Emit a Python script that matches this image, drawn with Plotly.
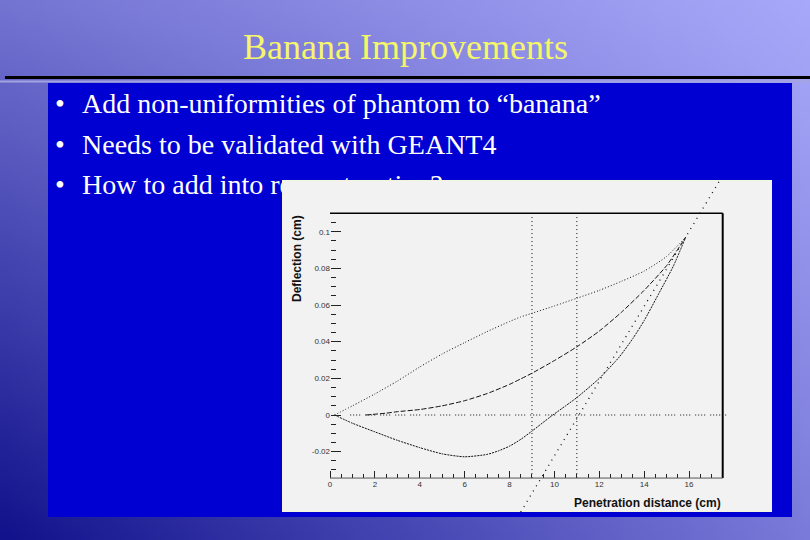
import base64
import struct
import zlib
import plotly.graph_objects as go

W, H = 810, 540

# ---------------- data ----------------
upper_x = [0.2, 1, 2, 3, 4, 5, 6, 7, 8, 8.5, 9, 10, 11, 12, 13, 14, 15, 15.85]
upper_y = [0, 0.005, 0.0115, 0.0185, 0.0262, 0.0333, 0.0395, 0.0455, 0.051, 0.0535,
           0.0555, 0.0595, 0.0637, 0.068, 0.073, 0.0785, 0.0865, 0.097]

middle_x = [1.6, 2.5, 3, 4, 5, 6, 7, 8, 8.5, 9, 10, 11, 12, 13, 14, 15, 15.85]
middle_y = [0, 0.001, 0.0018, 0.003, 0.005, 0.0078, 0.0117, 0.0167, 0.0197, 0.0228, 0.0297,
            0.0372, 0.0458, 0.0562, 0.068, 0.0815, 0.097]

lower_x = [0.2, 1, 2, 3, 4, 5, 6, 7, 7.5, 8, 8.5, 9, 9.8, 10.5, 11, 12, 12.9,
           13.5, 14, 14.65, 15.3, 15.85]
lower_y = [0, -0.0045, -0.0092, -0.0138, -0.0178, -0.0212, -0.0228, -0.0215,
           -0.0196, -0.0170, -0.0133, -0.0088, -0.0012, 0.0050, 0.0095, 0.0200, 0.0318,
           0.0418, 0.0515, 0.0662, 0.0812, 0.097]

straight_x = [8.5, 17.35]
straight_y = [-0.0529, 0.1276]

zero_x = [0.9, 17.7]
zero_y = [0, 0]

vline_x = [9, 11]

x_tick_vals = [0, 2, 4, 6, 8, 10, 12, 14, 16]
x_tick_text = ["0", "2", "4", "6", "8", "10", "12", "14", "16"]
x_minor_vals = [i * 0.5 for i in range(0, 36)]
y_tick_vals = [-0.02, 0, 0.02, 0.04, 0.06, 0.08, 0.1]
y_tick_text = ["-0.02", "0", "0.02", "0.04", "0.06", "0.08", "0.1"]
y_minor_vals = [round(-0.03 + i * 0.005, 3) for i in range(0, 29)]

title_text = "Banana Improvements"
bullets = [
    "Add non-uniformities of phantom to \u201cbanana\u201d",
    "Needs to be validated with GEANT4",
    "How to add into reconstruction?",
]
x_title = "Penetration distance (cm)"
y_title = "Deflection (cm)"

# ---------------- layout geometry ----------------
PANEL = dict(left=282, right=772, top=180, bottom=512)   # white panel (px)
X0_PX, X_PPU = 330.0, 22.44     # px of x=0, px per cm
Y0_PX, Y_PPU = 415.0, 1833.0    # px of y=0, px per cm
XR = [(PANEL["left"] - X0_PX) / X_PPU, (PANEL["right"] - X0_PX) / X_PPU]
YR = [(Y0_PX - PANEL["bottom"]) / Y_PPU, (Y0_PX - PANEL["top"]) / Y_PPU]
FRAME_XMAX = 17.5
FRAME_YMIN = -0.0344
FRAME_YMAX = 0.11

xdom = [PANEL["left"] / W, PANEL["right"] / W]
ydom = [1 - PANEL["bottom"] / H, 1 - PANEL["top"] / H]


def px(x):
    return x / W


def py(y):
    return 1 - y / H


xaxis_pos = ydom[0] + (FRAME_YMIN - YR[0]) / (YR[1] - YR[0]) * (ydom[1] - ydom[0])
yaxis_pos = xdom[0] + (0 - XR[0]) / (XR[1] - XR[0]) * (xdom[1] - xdom[0])


# ---------------- slide background (gradient image) ----------------
def gradient_png(w, h):
    TL = (115, 115, 210)
    TR = (168, 168, 250)
    BL = (18, 18, 140)
    BR = (122, 122, 218)
    raw = bytearray()
    for j in range(h):
        v = j / (h - 1)
        raw.append(0)
        for i in range(w):
            u = i / (w - 1)
            for k in range(3):
                c = (TL[k] * (1 - u) + TR[k] * u) * (1 - v) + (BL[k] * (1 - u) + BR[k] * u) * v
                raw.append(int(round(c)))

    def chunk(t, d):
        return struct.pack(">I", len(d)) + t + d + struct.pack(">I", zlib.crc32(t + d) & 0xFFFFFFFF)

    png = (b"\x89PNG\r\n\x1a\n"
           + chunk(b"IHDR", struct.pack(">IIBBBBB", w, h, 8, 2, 0, 0, 0))
           + chunk(b"IDAT", zlib.compress(bytes(raw)))
           + chunk(b"IEND", b""))
    return "data:image/png;base64," + base64.b64encode(png).decode()


fig = go.Figure()

# ---------------- slide text (on full-page axes, under the chart panel) ----------------
LINE_Y = [106, 147, 187]
fig.add_trace(go.Scatter(
    x=[60] * 3, y=LINE_Y, text=["\u2022"] * 3, mode="text", textposition="middle center",
    textfont=dict(family="Liberation Serif", size=28, color="white"),
    hoverinfo="skip", showlegend=False, cliponaxis=False, xaxis="x", yaxis="y"))
fig.add_trace(go.Scatter(
    x=[82] * 3, y=LINE_Y, text=bullets, mode="text", textposition="middle right",
    textfont=dict(family="Liberation Serif", size=28, color="white"),
    hoverinfo="skip", showlegend=False, cliponaxis=False, xaxis="x", yaxis="y"))

# ---------------- chart traces ----------------
ink = "#111111"
fig.add_trace(go.Scatter(x=zero_x, y=zero_y, mode="lines",
                         line=dict(color=ink, width=1, dash="1px,2px,1px,2px,1px,2px,1px,5px"),
                         hoverinfo="skip", showlegend=False, xaxis="x2", yaxis="y2"))
for vx in vline_x:
    fig.add_trace(go.Scatter(x=[vx, vx], y=[FRAME_YMIN, FRAME_YMAX], mode="lines",
                             line=dict(color=ink, width=1, dash="1px,3px"),
                             hoverinfo="skip", showlegend=False, xaxis="x2", yaxis="y2"))
fig.add_trace(go.Scatter(x=upper_x, y=upper_y, mode="lines", line_shape="spline",
                         line=dict(color=ink, width=1, dash="1px,2px", smoothing=0.6),
                         showlegend=False, xaxis="x2", yaxis="y2"))
fig.add_trace(go.Scatter(x=middle_x, y=middle_y, mode="lines", line_shape="spline",
                         line=dict(color=ink, width=1, dash="5px,2px", smoothing=0.6),
                         showlegend=False, xaxis="x2", yaxis="y2"))
fig.add_trace(go.Scatter(x=lower_x, y=lower_y, mode="lines", line_shape="spline",
                         line=dict(color=ink, width=1, dash="2px,1px", smoothing=0.6),
                         showlegend=False, xaxis="x2", yaxis="y2"))
fig.add_trace(go.Scatter(x=straight_x, y=straight_y, mode="lines",
                         line=dict(color=ink, width=1.3, dash="1px,5px"),
                         showlegend=False, xaxis="x2", yaxis="y2"))

tickfont = dict(family="Liberation Sans, Arial, sans-serif", size=8, color="#333333")

fig.update_layout(
    width=W, height=H,
    margin=dict(l=0, r=0, t=0, b=0),
    paper_bgcolor="#6e6ed0",
    plot_bgcolor="rgba(0,0,0,0)",
    showlegend=False,
    images=[dict(source=gradient_png(81, 54), xref="paper", yref="paper", x=0, y=1,
                 sizex=1, sizey=1, xanchor="left", yanchor="top", sizing="stretch",
                 layer="below")],
    xaxis=dict(domain=[0, 1], range=[0, W], visible=False, fixedrange=True),
    yaxis=dict(domain=[0, 1], range=[H, 0], visible=False, fixedrange=True),
    xaxis2=dict(domain=xdom, range=XR, anchor="free", position=xaxis_pos,
                tickmode="array", tickvals=x_tick_vals, ticktext=x_tick_text,
                ticks="inside", ticklen=7, tickwidth=1, tickcolor="#222222",
                showgrid=False, zeroline=False, showline=False, tickfont=tickfont,
                minor=dict(tickmode="array", tickvals=x_minor_vals, ticks="inside",
                           ticklen=4, tickwidth=1, tickcolor="#222222", showgrid=False),
                fixedrange=True),
    yaxis2=dict(domain=ydom, range=YR, anchor="free", position=yaxis_pos,
                tickmode="array", tickvals=y_tick_vals, ticktext=y_tick_text,
                ticks="inside", ticklen=10, tickwidth=1, tickcolor="#222222",
                showgrid=False, zeroline=False, showline=False, tickfont=tickfont,
                minor=dict(tickmode="array", tickvals=y_minor_vals, ticks="inside",
                           ticklen=5, tickwidth=1, tickcolor="#222222", showgrid=False),
                fixedrange=True),
    shapes=[
        # blue content box
        dict(type="rect", xref="paper", yref="paper", x0=px(48), x1=px(792),
             y0=py(517), y1=py(83), fillcolor="#0000d2", line=dict(width=0), layer="below"),
        # separator lines under the title
        dict(type="line", xref="paper", yref="paper", x0=px(0), x1=px(810),
             y0=py(81.5), y1=py(81.5), line=dict(color="#a4a4e0", width=2), layer="below"),
        dict(type="line", xref="paper", yref="paper", x0=px(5), x1=px(810),
             y0=py(77.5), y1=py(77.5), line=dict(color="black", width=3), layer="below"),
        # chart panel (under chart traces, over slide text)
        dict(type="rect", xref="x2", yref="y2", x0=XR[0], x1=XR[1], y0=YR[0], y1=YR[1],
             fillcolor="#f2f2f2", line=dict(color="#f4f4dc", width=2), layer="below"),
        # frame
        dict(type="line", xref="x2", yref="y2", x0=0, x1=FRAME_XMAX,
             y0=FRAME_YMAX, y1=FRAME_YMAX, line=dict(color="black", width=1.5)),
        dict(type="line", xref="x2", yref="y2", x0=FRAME_XMAX, x1=FRAME_XMAX,
             y0=FRAME_YMIN, y1=FRAME_YMAX, line=dict(color="black", width=2)),
        dict(type="line", xref="x2", yref="y2", x0=0, x1=FRAME_XMAX,
             y0=FRAME_YMIN, y1=FRAME_YMIN, line=dict(color="#555555", width=1)),
    ],
    annotations=[
        dict(text=title_text, xref="paper", yref="paper", x=px(405), y=py(47),
             xanchor="center", yanchor="middle", showarrow=False,
             font=dict(family="Liberation Serif, Times New Roman, serif", size=36,
                       color="#f6f66a")),
        dict(text="<b>" + x_title + "</b>", xref="paper", yref="paper", x=px(723), y=py(503),
             xanchor="right", yanchor="middle", showarrow=False,
             font=dict(family="Liberation Sans, Arial, sans-serif", size=12, color="#111111")),
        dict(text="<b>" + y_title + "</b>", xref="paper", yref="paper", x=px(297), y=py(259),
             xanchor="center", yanchor="middle", textangle=-90, showarrow=False,
             font=dict(family="Liberation Sans, Arial, sans-serif", size=12, color="#111111")),
    ],
)

fig.write_html(
    "out.html",
    config={"displayModeBar": False},
    post_script="document.body.style.margin='0px';document.body.style.overflow='hidden';",
)
